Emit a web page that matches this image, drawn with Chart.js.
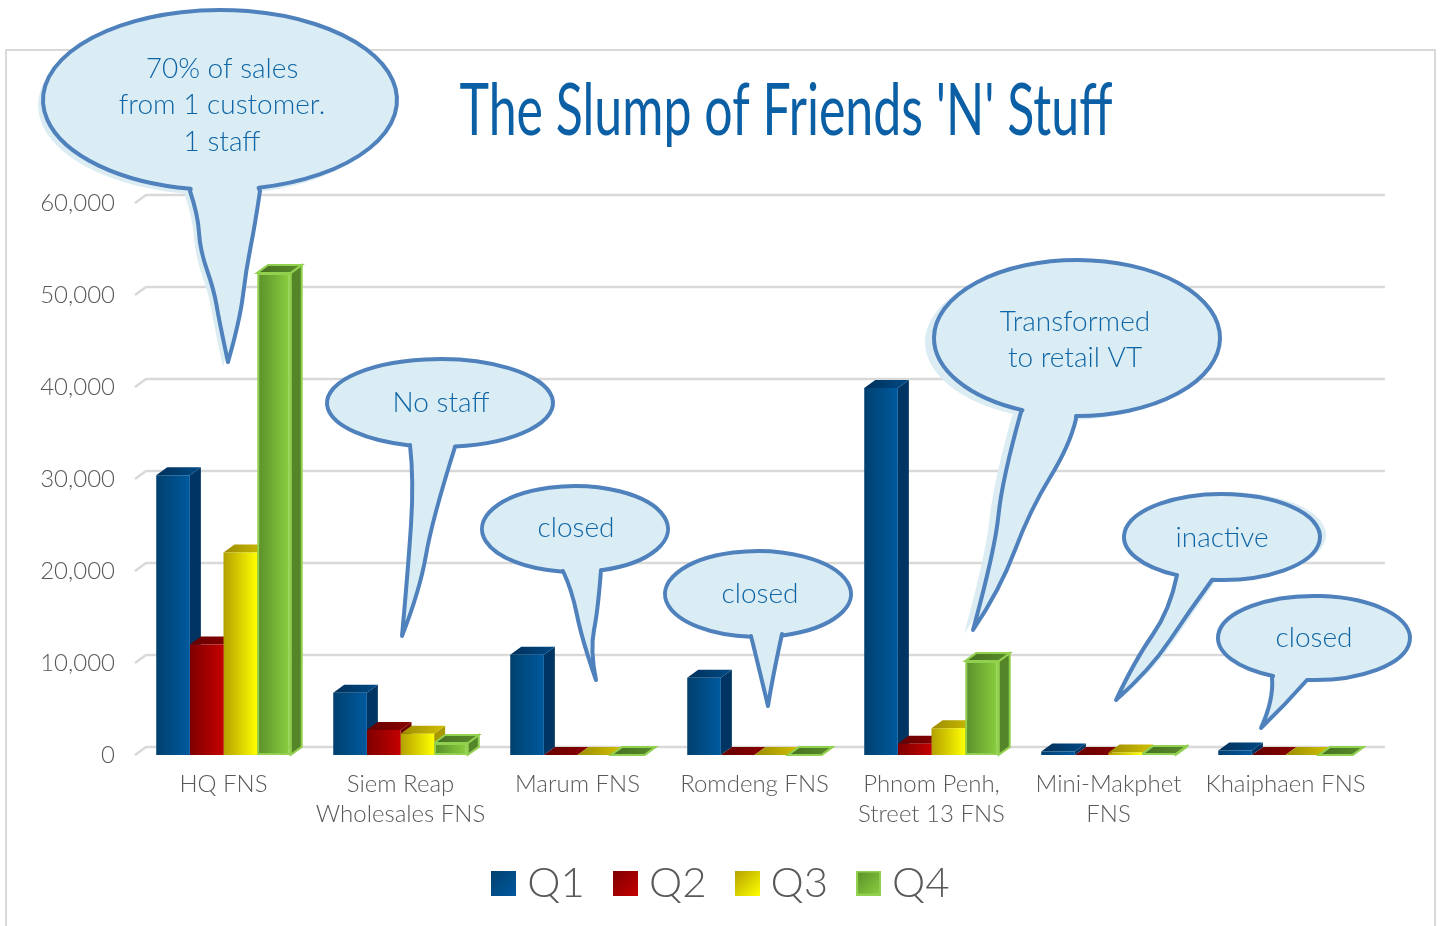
<!DOCTYPE html>
<html><head><meta charset="utf-8">
<style>html,body{margin:0;padding:0;background:#fff;overflow:hidden}canvas{display:block}</style>
<script src="https://cdn.jsdelivr.net/npm/chart.js@4/dist/chart.umd.min.js"></script>
</head><body><canvas id="c" width="1441" height="926" style="width:1441px;height:926px"></canvas>
<script>
const categories=["HQ FNS",["Siem Reap","Wholesales FNS"],"Marum FNS","Romdeng FNS",["Phnom Penh,","Street 13 FNS"],["Mini-Makphet","FNS"],"Khaiphaen FNS"];
const q1=[30400,6750,10900,8400,39900,360,470];
const q2=[12000,2700,0,0,1200,0,0];
const q3=[22000,2300,0,0,2900,250,0];
const q4=[52400,1300,0,0,10200,100,0];
const seriesNames=["Q1","Q2","Q3","Q4"];
const titleText="The Slump of Friends 'N' Stuff";
const FONT="Lato";
const DX=11,DY=8;
const looks=[
 {a:"#00406f",b:"#005a9e",ta:"#00305a",tb:"#004a85",s:"#003563",e:null},
 {a:"#7f0000",b:"#c40000",ta:"#650000",tb:"#8a0000",s:"#700000",e:null},
 {a:"#b3a000",b:"#ffff00",ta:"#9c8c00",tb:"#d0c000",s:"#a89900",e:null},
 {a:"#5a8f2a",b:"#8bd040",ta:"#467022",tb:"#5a8c2c",s:"#558529",e:"#92d050"}
];
const callouts=[
 {cx:220,cy:100,rx:177,ry:90,sx:-5,sy:5,left:[[190,191],[198,215],[200,250],[214,290],[219,320],[228,362]],right:[[228,362],[240,320],[246,270],[255,225],[260,191]],lines:["70% of sales","from 1 customer.","1 staff"],tx:222,ty:[69,105,142]},
 {cx:440,cy:403,rx:113,ry:44,sx:0,sy:0,left:[[410,445],[414,480],[408,570],[402,636]],right:[[402,636],[420,590],[432,520],[455,447]],lines:["No staff"],tx:441,ty:[403]},
 {cx:575,cy:529,rx:93,ry:43,sx:0,sy:0,left:[[563,571],[572,590],[582,640],[596,680]],right:[[596,680],[590,650],[598,610],[601,570]],lines:["closed"],tx:576,ty:[528]},
 {cx:758,cy:594,rx:93,ry:43,sx:0,sy:0,left:[[751,636],[757,660],[768,706]],right:[[768,706],[772,680],[782,634]],lines:["closed"],tx:760,ty:[594]},
 {cx:1077,cy:338,rx:143,ry:78,sx:-9,sy:4,left:[[1021,412],[1002,480],[995,550],[973,630]],right:[[973,630],[1000,590],[1030,510],[1070,445],[1076,419]],lines:["Transformed","to retail VT"],tx:1075,ty:[322,358]},
 {cx:1222,cy:537,rx:98,ry:43,sx:6,sy:-2,left:[[1177,575],[1170,610],[1135,660],[1116,700]],right:[[1116,700],[1150,670],[1190,610],[1212,580]],lines:["inactive"],tx:1222,ty:[538]},
 {cx:1314,cy:638,rx:96,ry:42,sx:-2,sy:-2,left:[[1272,677],[1274,700],[1261,728]],right:[[1261,728],[1285,705],[1307,680]],lines:["closed"],tx:1314,ty:[638]}
];
function swatch(i){
 const s=document.createElement("canvas");s.width=25;s.height=25;
 const g=s.getContext("2d"),l=looks[i],gr=g.createLinearGradient(0,0,25,25);
 gr.addColorStop(0,l.a);gr.addColorStop(1,l.b);g.fillStyle=gr;g.fillRect(0,0,25,25);
 if(l.e){g.strokeStyle=l.e;g.lineWidth=2;g.strokeRect(1,1,23,23);}
 return s;
}
function smooth(ctx,pts){
 for(let i=1;i<pts.length-1;i++){
  const n=pts[i+1],p=pts[i],end=i===pts.length-2?n:[(p[0]+n[0])/2,(p[1]+n[1])/2];
  ctx.quadraticCurveTo(p[0],p[1],end[0],end[1]);
 }
 if(pts.length===2)ctx.lineTo(pts[1][0],pts[1][1]);
}
function calloutPath(ctx,c,ox,oy){
 const shift=p=>[p[0]+ox,p[1]+oy];
 const L=c.left.map(shift),R=c.right.map(shift);
 const cx=c.cx+ox,cy=c.cy+oy;
 const ang=p=>Math.atan2((p[1]-cy)/c.ry,(p[0]-cx)/c.rx);
 const last=R[R.length-1];
 ctx.beginPath();
 ctx.ellipse(cx,cy,c.rx,c.ry,0,ang(last),ang(L[0]),true);
 ctx.lineTo(L[0][0],L[0][1]);
 smooth(ctx,L);smooth(ctx,R);
 ctx.closePath();
}
const deco={
 id:"deco",
 beforeDraw(chart){
  const ctx=chart.ctx;ctx.save();
  ctx.fillStyle="#fff";ctx.fillRect(0,0,chart.width,chart.height);
  ctx.strokeStyle="#d9d9d9";ctx.lineWidth=2;
  ctx.beginPath();ctx.moveTo(6,930);ctx.lineTo(6,50);ctx.lineTo(1435,50);ctx.lineTo(1435,930);ctx.stroke();
  ctx.restore();
 },
 afterLayout(chart){
  const l=chart.legend;
  l.left+=21;l.right+=21;l.top-=12;l.bottom-=12;
 },
 afterDatasetsUpdate(chart){
  const ctx=chart.ctx;
  chart.data.datasets.forEach((d,i)=>{
   const l=looks[i];
   chart.getDatasetMeta(i).data.forEach(el=>{
    const w=el.width,x0=el.x-w/2,g=ctx.createLinearGradient(x0,el.base,x0+w,el.base);
    g.addColorStop(0,l.a);g.addColorStop(1,l.b);
    el.options=Object.assign({},el.options,{backgroundColor:g});
   });
  });
 },
 beforeDatasetsDraw(chart){
  const ctx=chart.ctx,y=chart.scales.y,a=chart.chartArea;
  ctx.save();ctx.strokeStyle="#d9d9d9";ctx.lineWidth=2.5;
  y.ticks.forEach((t,i)=>{
   const p=y.getPixelForTick(i);
   ctx.beginPath();ctx.moveTo(a.left,p);ctx.lineTo(a.left+DX,p-DY);ctx.lineTo(a.right+DX,p-DY);ctx.stroke();
  });
  // sides and tops, series by series; the flat fronts are painted over them by the chart
  chart.data.datasets.forEach((d,k)=>{
   const l=looks[k];
   chart.getDatasetMeta(k).data.forEach(el=>{
    const w=el.width,x0=el.x-w/2,x1=el.x+w/2,top=el.y,base=el.base;
    ctx.lineWidth=2;if(l.e)ctx.strokeStyle=l.e;
    if(base-top>0.5){
     ctx.beginPath();ctx.moveTo(x1,top);ctx.lineTo(x1+DX,top-DY);ctx.lineTo(x1+DX,base-DY);ctx.lineTo(x1,base);ctx.closePath();
     ctx.fillStyle=l.s;ctx.fill();if(l.e)ctx.stroke();
    }
    const g=ctx.createLinearGradient(x0,top,x1+DX,top);g.addColorStop(0,l.ta);g.addColorStop(1,l.tb);
    ctx.beginPath();ctx.moveTo(x0,top);ctx.lineTo(x0+DX,top-DY);ctx.lineTo(x1+DX,top-DY);ctx.lineTo(x1,top);ctx.closePath();
    ctx.fillStyle=g;ctx.fill();if(l.e)ctx.stroke();
   });
  });
  ctx.restore();
 },
 afterDraw(chart){
  const ctx=chart.ctx;ctx.save();
  ctx.fillStyle="#0b5fa5";ctx.font="400 72px "+FONT;ctx.textAlign="center";ctx.textBaseline="alphabetic";
  ctx.fillText(titleText,786,135,653);
  callouts.forEach(c=>{
   if(c.sx||c.sy){calloutPath(ctx,c,c.sx,c.sy);ctx.fillStyle="#dbecf3";ctx.fill();}
   calloutPath(ctx,c,0,0);ctx.fillStyle="#dbedf4";ctx.fill();
   ctx.strokeStyle="#4f81bd";ctx.lineWidth=4;ctx.lineJoin="round";ctx.stroke();
  });
  ctx.fillStyle="#0e65a5";ctx.font="300 28px "+FONT;ctx.textBaseline="middle";ctx.textAlign="center";
  callouts.forEach(c=>c.lines.forEach((t,i)=>ctx.fillText(t,c.tx,c.ty[i])));
  ctx.restore();
 }
};
const seriesData=[q1,q2,q3,q4];
const swatches=seriesNames.map((_,i)=>swatch(i));
new Chart(document.getElementById("c"),{
 type:"bar",
 data:{labels:categories,datasets:seriesNames.map((n,i)=>({
  label:n,data:seriesData[i],backgroundColor:looks[i].b,
  borderWidth:looks[i].e?2:0,borderColor:looks[i].e||"transparent",borderSkipped:false,
  barPercentage:1,categoryPercentage:0.76
 }))},
 plugins:[deco],
 options:{
  responsive:false,animation:false,events:[],
  layout:{padding:{top:203,left:35,right:67,bottom:0}},
  plugins:{
   tooltip:{enabled:false},title:{display:false},
   legend:{position:"bottom",labels:{
    usePointStyle:true,boxWidth:5,padding:38,color:"#595959",font:{family:FONT,size:42,weight:"300"},
    generateLabels:ch=>ch.data.datasets.map((d,i)=>({text:d.label,pointStyle:swatches[i],datasetIndex:i,fontColor:"#595959",hidden:false,lineWidth:0,strokeStyle:"transparent",fillStyle:looks[i].b}))
   }}
  },
  scales:{
   x:{grid:{display:false},border:{display:false},afterFit:s=>{s.height=81.1;},
      ticks:{color:"#595959",padding:6,maxRotation:0,autoSkip:false,font:{family:FONT,size:24,weight:"300",lineHeight:1.25}}},
   y:{min:0,max:60000,grid:{display:false},border:{display:false},afterFit:s=>{s.width=100;},
      ticks:{stepSize:10000,color:"#595959",padding:12,font:{family:FONT,size:24,weight:"300"},callback:v=>v.toLocaleString("en-US")}}
  }
 }
});
</script></body></html>
